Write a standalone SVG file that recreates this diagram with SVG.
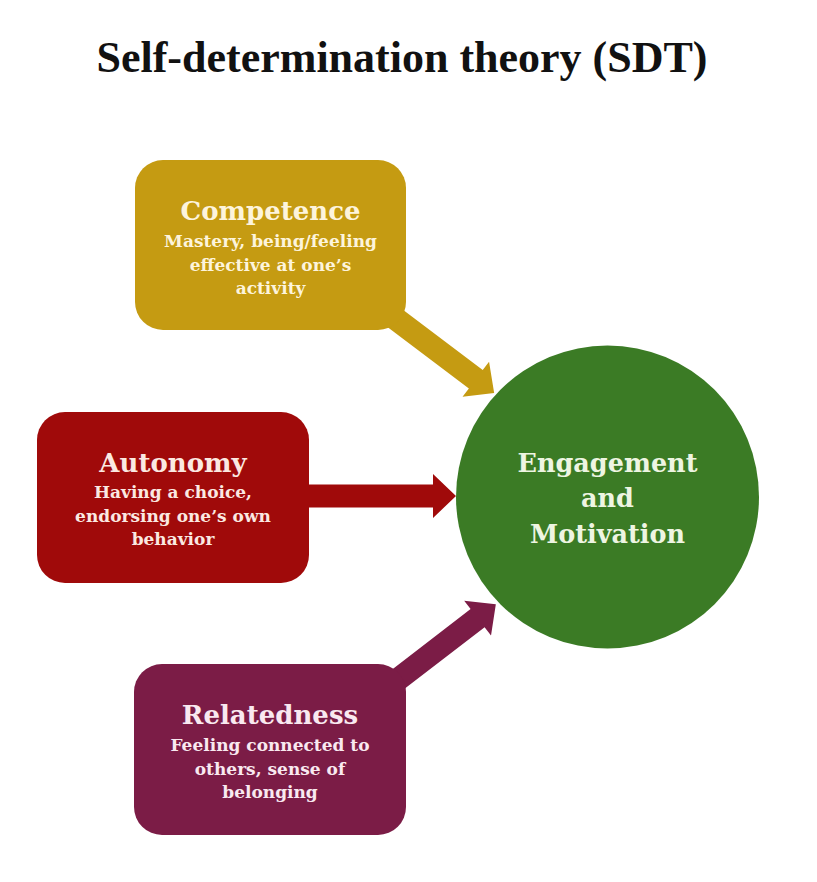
<svg xmlns="http://www.w3.org/2000/svg" width="817" height="882" viewBox="0 0 817 882">
  <style>
    .title { font-family: "Liberation Serif", "DejaVu Serif", serif; font-weight: bold; font-size: 44px; fill: #111111; }
    .head { font-family: "DejaVu Serif", "Liberation Serif", serif; font-weight: bold; font-size: 26px; text-anchor: middle; }
    .sub { font-family: "DejaVu Serif", "Liberation Serif", serif; font-weight: bold; font-size: 17px; text-anchor: middle; }
    .center { font-family: "DejaVu Serif", "Liberation Serif", serif; font-weight: bold; font-size: 25.5px; text-anchor: middle; fill: #EEF5E2; }
    .comp { fill: #C59B12; }
    .auto { fill: #A00A0A; }
    .rel { fill: #7B1C46; }
    .t-comp { fill: #FDF4DC; }
    .t-auto { fill: #FBE9E2; }
    .t-rel { fill: #F9E9F0; }
  </style>
  <rect width="817" height="882" fill="#ffffff"/>

  <text class="title" x="402" y="72" text-anchor="middle">Self-determination theory (SDT)</text>

  <g id="connectors">
    <g id="arrow-competence" class="comp">
      <polygon points="0,-11.5 105,-11.5 105,-22 128,0 105,22 105,11.5 0,11.5" transform="translate(392,316) rotate(37.05)"/>
    </g>
    <g id="arrow-autonomy" class="auto">
      <polygon points="0,-11.5 133,-11.5 133,-22 156,0 133,22 133,11.5 0,11.5" transform="translate(300,496)"/>
    </g>
    <g id="arrow-relatedness" class="rel">
      <polygon points="0,-11.5 108,-11.5 108,-22 131,0 108,22 108,11.5 0,11.5" transform="translate(392,684) rotate(-37.57)"/>
    </g>
  </g>

  <g id="competence">
    <rect class="comp" x="135" y="160" width="271" height="170" rx="28" ry="28"/>
    <text class="head t-comp" x="270.5" y="220">Competence</text>
    <text class="sub t-comp" x="270.5" y="247">Mastery, being/feeling</text>
    <text class="sub t-comp" x="270.5" y="270.5">effective at one’s</text>
    <text class="sub t-comp" x="270.5" y="294">activity</text>
  </g>

  <g id="autonomy">
    <rect class="auto" x="37" y="412" width="272" height="171" rx="28" ry="28"/>
    <text class="head t-auto" x="173" y="472">Autonomy</text>
    <text class="sub t-auto" x="173" y="498">Having a choice,</text>
    <text class="sub t-auto" x="173" y="521.5">endorsing one’s own</text>
    <text class="sub t-auto" x="173" y="545">behavior</text>
  </g>

  <g id="relatedness">
    <rect class="rel" x="134" y="664" width="272" height="171" rx="28" ry="28"/>
    <text class="head t-rel" x="270" y="724">Relatedness</text>
    <text class="sub t-rel" x="270" y="751">Feeling connected to</text>
    <text class="sub t-rel" x="270" y="774.5">others, sense of</text>
    <text class="sub t-rel" x="270" y="798">belonging</text>
  </g>

  <g id="engagement">
    <circle cx="607.5" cy="497" r="151.5" fill="#3B7B25"/>
    <text class="center" x="607.5" y="472">Engagement</text>
    <text class="center" x="607.5" y="507">and</text>
    <text class="center" x="607.5" y="543">Motivation</text>
  </g>
</svg>
